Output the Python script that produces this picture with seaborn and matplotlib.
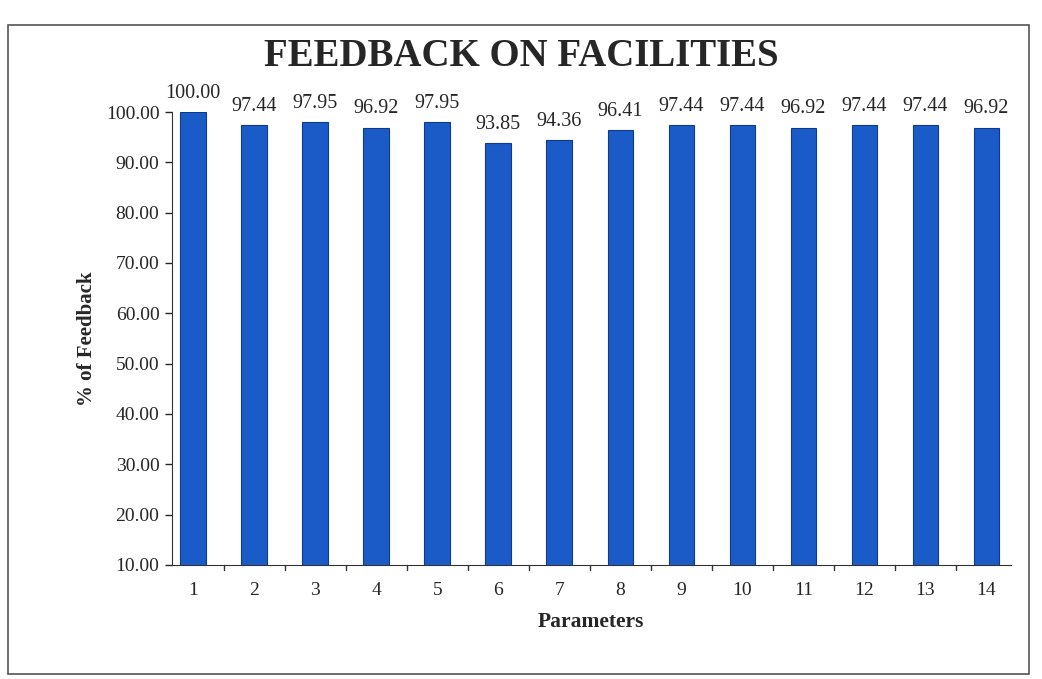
import matplotlib.pyplot as plt
import seaborn as sns
import pandas as pd
from matplotlib.patches import Rectangle

parameters = [str(i) for i in range(1, 15)]
feedback = [100.00, 97.44, 97.95, 96.92, 97.95, 93.85, 94.36,
            96.41, 97.44, 97.44, 96.92, 97.44, 97.44, 96.92]
yticks = [10, 20, 30, 40, 50, 60, 70, 80, 90, 100]

df = pd.DataFrame({"Parameters": parameters, "Feedback": feedback})

sns.set_style("white")
plt.rcParams['font.family'] = ['Liberation Serif', 'DejaVu Serif']

fig = plt.figure(figsize=(10.42, 6.79), dpi=100)
ax = fig.add_axes([0.165, 0.168, 0.805, 0.667])
sns.barplot(df, x="Parameters", y="Feedback", color="#1a5bc8",
            saturation=1, width=0.42, edgecolor="#0d3a8a", linewidth=0.8, ax=ax)

ax.set_ylim(10, 100)
ax.set_xlim(-0.35, 13.4)
ax.set_yticks(yticks)
ax.set_yticklabels([f"{v:.2f}" for v in yticks], fontsize=14)
ax.set_xticks(range(14))
ax.set_xticklabels(parameters, fontsize=14)
ax.tick_params(axis="x", length=0, pad=12)
ax.tick_params(axis="y", length=5, direction="out", left=True, width=1, pad=4)
# category separators on the x axis
for i in range(13):
    ax.plot([i + 0.5, i + 0.5], [0, -0.012], transform=ax.get_xaxis_transform(),
            color="#333333", lw=1, clip_on=False)

for s in ["top", "right"]:
    ax.spines[s].set_visible(False)
for s in ["left", "bottom"]:
    ax.spines[s].set_color("#333333")

for i, v in enumerate(feedback):
    ax.text(i, v + 1.8, f"{v:.2f}", ha="center", va="bottom", fontsize=14.5)

ax.set_xlabel("Parameters", fontsize=15.5, fontweight="bold", labelpad=10)
ax.set_ylabel("% of Feedback", fontsize=15, fontweight="bold", labelpad=6)

fig.text(0.5, 0.917, "FEEDBACK ON FACILITIES", ha="center", va="center",
         fontsize=28, fontweight="bold")

fig.patches.append(Rectangle((0.008, 0.008), 0.98, 0.955, transform=fig.transFigure,
                             fill=False, edgecolor="#555555", lw=1.2))

fig.savefig("out.png", dpi=100)
